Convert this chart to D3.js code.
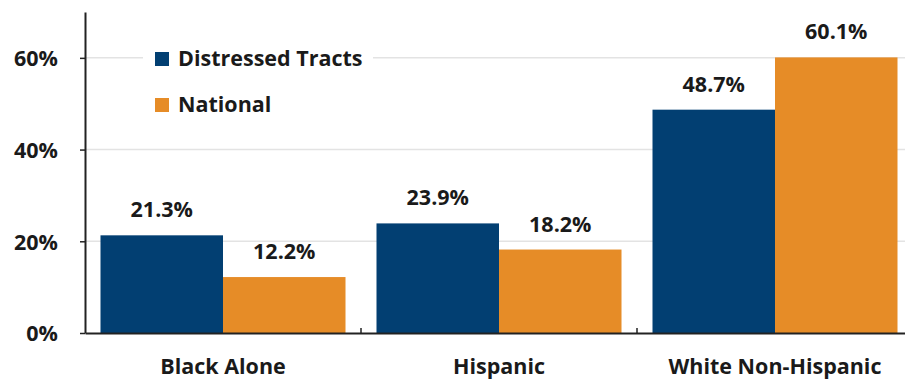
<!DOCTYPE html>
<html lang="en">
<head>
<meta charset="UTF-8">
<title>Distressed Tracts vs National</title>
<script src="https://cdn.jsdelivr.net/npm/d3@7"></script>
<style>
  html, body { margin: 0; padding: 0; background: #fff; }
  svg text { font-family: "Open Sans", sans-serif; font-weight: 700; fill: #1a1a1a; }
</style>
</head>
<body>
<svg id="chart" width="905" height="379"></svg>
<script>
  // data
  var categories = ["Black Alone", "Hispanic", "White Non-Hispanic"];
  var seriesNames = ["Distressed Tracts", "National"];
  var distressed = [21.3, 23.9, 48.7];
  var national = [12.2, 18.2, 60.1];
  var yTicks = [0, 20, 40, 60];
  var colors = ["#023f72", "#e68c27"];

  (function() {
    var svg = d3.select("#chart");
    var m = { left: 85, right: 913, top: 12, bottom: 333 };
    var fs = "21.5px";

    var x = d3.scaleBand().domain(categories).range([m.left, m.right]).padding(0);
    var inner = d3.scaleBand().domain(seriesNames)
      .range([15.5, x.bandwidth() - 15.5]).padding(0);
    var y = d3.scaleLinear().domain([0, 70]).range([m.bottom, m.top]);

    // gridlines
    svg.append("g").selectAll("line")
      .data(yTicks.filter(function(d) { return d > 0; }))
      .enter().append("line")
      .attr("x1", m.left).attr("x2", 905)
      .attr("y1", function(d) { return y(d); })
      .attr("y2", function(d) { return y(d); })
      .attr("stroke", "#e3e3e3").attr("stroke-width", 1.5);

    // bars
    var rows = categories.map(function(c, i) {
      return { cat: c, vals: [distressed[i], national[i]] };
    });
    var groups = svg.append("g").selectAll("g").data(rows).enter().append("g")
      .attr("transform", function(d) { return "translate(" + x(d.cat) + ",0)"; });

    groups.selectAll("rect")
      .data(function(d) { return d.vals.map(function(v, j) { return { s: seriesNames[j], v: v, j: j }; }); })
      .enter().append("rect")
      .attr("x", function(d) { return inner(d.s); })
      .attr("width", inner.bandwidth())
      .attr("y", function(d) { return y(d.v); })
      .attr("height", function(d) { return y(0) - y(d.v); })
      .attr("fill", function(d) { return colors[d.j]; });

    groups.selectAll("text.val")
      .data(function(d) { return d.vals.map(function(v, j) { return { s: seriesNames[j], v: v }; }); })
      .enter().append("text")
      .attr("class", "val")
      .attr("x", function(d) { return inner(d.s) + inner.bandwidth() / 2; })
      .attr("y", function(d) { return y(d.v) - 18; })
      .attr("text-anchor", "middle")
      .style("font-size", fs)
      .text(function(d) { return d.v.toFixed(1) + "%"; });

    // y axis
    var yAxis = d3.axisLeft(y).tickValues(yTicks).tickSize(5).tickSizeOuter(0).tickPadding(22)
      .tickFormat(function(d) { return d + "%"; });
    var gy = svg.append("g").attr("transform", "translate(" + m.left + ",0)").call(yAxis);
    gy.select(".domain").attr("stroke", "#222").attr("stroke-width", 2);
    gy.selectAll(".tick line").attr("stroke", "#222").attr("stroke-width", 1.5);
    gy.selectAll(".tick text").style("font-size", fs).attr("dy", "0.36em").attr("fill", "#1a1a1a");

    // x axis
    var xAxis = d3.axisBottom(x).tickSize(0).tickPadding(0);
    var gx = svg.append("g").attr("transform", "translate(0," + m.bottom + ")").call(xAxis);
    gx.select(".domain").attr("stroke", "#222").attr("stroke-width", 2);
    gx.selectAll(".tick text").style("font-size", fs).attr("y", 41).attr("dy", 0).attr("fill", "#1a1a1a");

    // category boundary ticks
    svg.append("g").selectAll("line")
      .data(categories.slice(1))
      .enter().append("line")
      .attr("x1", function(d) { return x(d); }).attr("x2", function(d) { return x(d); })
      .attr("y1", m.bottom).attr("y2", m.bottom - 5)
      .attr("stroke", "#222").attr("stroke-width", 1.5);

    // legend
    var legend = svg.append("g");
    legend.append("rect").attr("x", 143).attr("y", 36).attr("width", 230).attr("height", 90).attr("fill", "#fff");
    var items = legend.selectAll("g.item").data(seriesNames).enter().append("g")
      .attr("transform", function(d, i) { return "translate(155," + (52 + i * 46) + ")"; });
    items.append("rect").attr("width", 14).attr("height", 14)
      .attr("fill", function(d, i) { return colors[i]; });
    items.append("text").attr("x", 23).attr("y", 14)
      .style("font-size", fs)
      .text(function(d) { return d; });
  })();
</script>
</body>
</html>
